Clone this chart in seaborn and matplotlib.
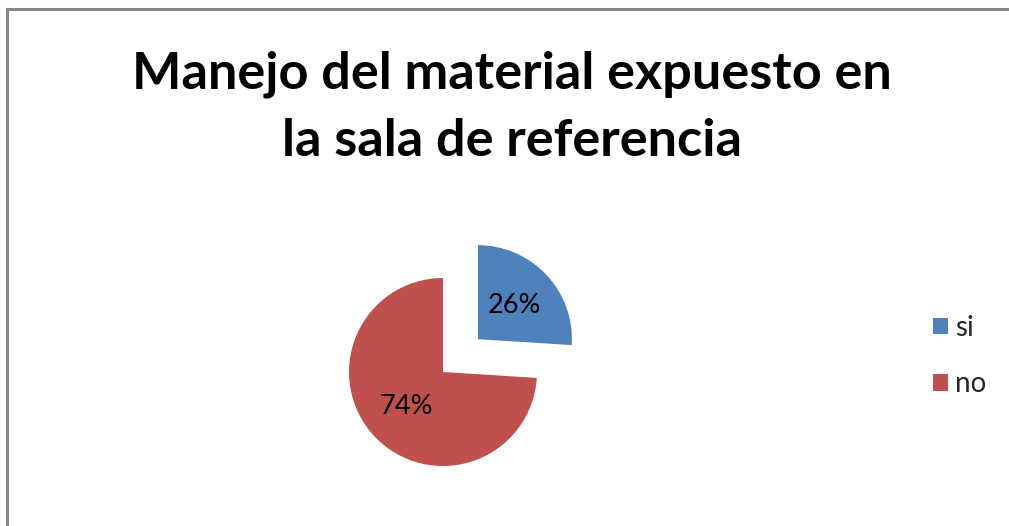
import matplotlib
matplotlib.use("Agg")
import matplotlib.pyplot as plt
from matplotlib.patches import Rectangle
import seaborn as sns

# Survey answers
categories = ["si", "no"]
shares = [26, 74]
title_lines = ["Manejo del material expuesto en", "la sala de referencia"]

sns.set_theme(style="white")
plt.rcParams["font.family"] = ["Lato", "DejaVu Sans"]

colors = ["#4F81BD", "#C0504D"]

W, H = 1009, 526
fig = plt.figure(figsize=(W / 100, H / 100), dpi=100)
fig.patch.set_facecolor("white")

# Square axes holding the pie, radius 1 data unit ~ 94 px
cx, cy, r = 443, 372, 94
span = 1.5
size = 2 * span * r
ax = fig.add_axes([(cx - size / 2) / W, (H - cy - size / 2) / H, size / W, size / H])
wedges, texts, autotexts = ax.pie(
    shares,
    colors=colors,
    startangle=90,
    counterclock=False,
    explode=[0.51, 0.0],
    autopct="%1.0f%%",
    pctdistance=0.53,
    textprops={"fontsize": 19.5, "color": "black"},
    wedgeprops={"linewidth": 0},
)
ax.set_xlim(-span, span)
ax.set_ylim(-span, span)
ax.set_aspect("equal")
ax.axis("off")

# Title
fig.text(512 / W, 1 - 89 / H, title_lines[0], ha="center", va="baseline",
         fontsize=37.6, fontweight="bold", color="black")
fig.text(512 / W, 1 - 156 / H, title_lines[1], ha="center", va="baseline",
         fontsize=37.6, fontweight="bold", color="black")

# Legend on the right
leg = fig.legend(
    wedges, categories,
    loc="center left",
    bbox_to_anchor=(908 / W, 1 - 356 / H),
    frameon=False,
    fontsize=20,
    handlelength=0.55,
    handleheight=0.55,
    handletextpad=0.25,
    labelspacing=1.1,
)

# Chart frame (top and left edges visible)
fig.patches.append(Rectangle((7 / W, -0.1), 1.2, 1.1 - 9 / H,
                             transform=fig.transFigure, fill=False,
                             edgecolor="#868686", linewidth=2.2))

fig.savefig("out.png", dpi=100)
